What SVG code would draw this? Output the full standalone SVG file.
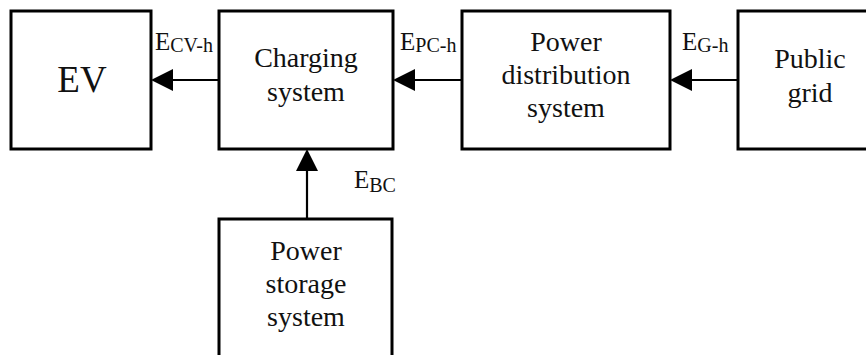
<svg xmlns="http://www.w3.org/2000/svg" width="866" height="355" viewBox="0 0 866 355">
<style>
.box{fill:#fff;stroke:#000;stroke-width:3}
.t{font-family:"Liberation Serif","Times New Roman",serif;font-size:28px;fill:#111;text-anchor:middle}
.big{font-size:37px}
.lbl{font-family:"Liberation Serif","Times New Roman",serif;font-size:25px;fill:#111}
.sub{font-size:20px}
.conn{stroke:#000;stroke-width:2.2;fill:none}
</style>
<defs>
<marker id="ah" viewBox="0 0 22 22" refX="8" refY="11" markerWidth="22" markerHeight="22" markerUnits="userSpaceOnUse" orient="auto">
<path d="M0,0 L22,11 L0,22 z" fill="#000"/>
</marker>
</defs>
<rect width="866" height="355" fill="#fff"/>
<g id="ev">
<rect class="box" x="11" y="11" width="140" height="138"/>
<text class="t big" x="82" y="92">EV</text>
</g>
<g id="charging">
<rect class="box" x="219" y="11" width="174" height="138"/>
<text class="t" x="306" y="67">Charging</text>
<text class="t" x="306" y="101">system</text>
</g>
<g id="distribution">
<rect class="box" x="462" y="11" width="208" height="138"/>
<text class="t" x="566" y="51">Power</text>
<text class="t" x="566" y="84">distribution</text>
<text class="t" x="566" y="117">system</text>
</g>
<g id="grid">
<rect class="box" x="738" y="11" width="142" height="138"/>
<text class="t" x="810" y="68">Public</text>
<text class="t" x="810" y="102">grid</text>
</g>
<g id="storage">
<rect class="box" x="219" y="219" width="173" height="150"/>
<text class="t" x="306" y="260">Power</text>
<text class="t" x="306" y="293">storage</text>
<text class="t" x="306" y="326">system</text>
</g>
<g id="connectors">
<line class="conn" x1="219" y1="80" x2="165" y2="80" marker-end="url(#ah)"/>
<line class="conn" x1="462" y1="80" x2="407" y2="80" marker-end="url(#ah)"/>
<line class="conn" x1="738" y1="80" x2="684" y2="80" marker-end="url(#ah)"/>
<line class="conn" x1="307" y1="219" x2="307" y2="163" marker-end="url(#ah)"/>
</g>
<g id="labels">
<text class="lbl" x="155" y="50">E<tspan class="sub" dy="2">CV-h</tspan></text>
<text class="lbl" x="400" y="50">E<tspan class="sub" dy="2">PC-h</tspan></text>
<text class="lbl" x="682" y="50">E<tspan class="sub" dy="2">G-h</tspan></text>
<text class="lbl" x="354" y="188">E<tspan class="sub" dy="4">BC</tspan></text>
</g>
</svg>
